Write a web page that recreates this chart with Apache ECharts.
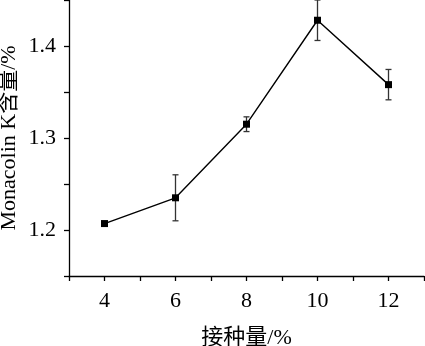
<!DOCTYPE html>
<html>
<head>
<meta charset="utf-8">
<script src="https://cdn.jsdelivr.net/npm/echarts@6/dist/echarts.min.js"></script>
<style>html,body{margin:0;padding:0;background:#fff}#c{width:425px;height:346px}</style>
</head>
<body>
<div id="c"></div>
<script>
var inoculum = [4, 6, 8, 10, 12];
var monacolinK = [1.207, 1.235, 1.315, 1.428, 1.358];
var errors = [0, 0.025, 0.008, 0.022, 0.0165];
var xName = '接种量/%';
var yName = 'Monacolin K含量/%';

var FONT = '"Liberation Serif", "Times New Roman", "Noto Sans CJK SC", serif';
var lineData = inoculum.map(function (x, i) { return [x, monacolinK[i]]; });
var errData = inoculum.map(function (x, i) { return [x, monacolinK[i] - errors[i], monacolinK[i] + errors[i]]; });

var chart = echarts.init(document.getElementById('c'), null, {renderer: 'canvas'});
chart.setOption({
  animation: false,
  backgroundColor: '#fff',
  grid: {left: 69, right: 1, top: 0, bottom: 70, containLabel: false, outerBoundsMode: 'none'},
  xAxis: {
    type: 'value', min: 3, max: 13, interval: 1,
    name: xName, nameLocation: 'middle', nameGap: 51, nameMoveOverlap: false,
    nameTextStyle: {fontFamily: FONT, fontSize: 22, color: '#000'},
    axisLine: {show: true, lineStyle: {color: '#000', width: 1.3}},
    axisTick: {show: true, length: 5, lineStyle: {color: '#000', width: 1.3}},
    axisLabel: {
      margin: 14, fontFamily: FONT, fontSize: 22, color: '#000',
      formatter: function (v) { return (Math.round(v) % 2 === 0) ? String(Math.round(v)) : ''; }
    },
    splitLine: {show: false}
  },
  yAxis: {
    type: 'value', min: 1.15, max: 1.45, interval: 0.05,
    name: yName, nameLocation: 'middle', nameGap: 49, nameMoveOverlap: false,
    nameTextStyle: {fontFamily: FONT, fontSize: 22, color: '#000'},
    axisLine: {show: true, lineStyle: {color: '#000', width: 1.3}},
    axisTick: {show: true, length: 5, lineStyle: {color: '#000', width: 1.3}},
    axisLabel: {
      margin: 13, fontFamily: FONT, fontSize: 22, color: '#000',
      formatter: function (v) {
        var t = v * 10;
        return Math.abs(t - Math.round(t)) < 1e-6 ? v.toFixed(1) : '';
      }
    },
    splitLine: {show: false}
  },
  series: [
    {
      type: 'custom',
      data: errData,
      z: 1,
      renderItem: function (params, api) {
        var x = api.value(0);
        var lo = api.coord([x, api.value(1)]);
        var hi = api.coord([x, api.value(2)]);
        var w = 3;
        var st = {stroke: '#333', lineWidth: 1.3};
        return {
          type: 'group',
          children: [
            {type: 'line', shape: {x1: lo[0], y1: lo[1], x2: hi[0], y2: hi[1]}, style: st},
            {type: 'line', shape: {x1: lo[0] - w, y1: lo[1], x2: lo[0] + w, y2: lo[1]}, style: st},
            {type: 'line', shape: {x1: hi[0] - w, y1: hi[1], x2: hi[0] + w, y2: hi[1]}, style: st}
          ]
        };
      }
    },
    {
      type: 'line',
      data: lineData,
      z: 3,
      symbol: 'rect',
      symbolSize: 7,
      showAllSymbol: true,
      itemStyle: {color: '#000'},
      lineStyle: {color: '#000', width: 1.4}
    }
  ]
});
</script>
</body>
</html>
